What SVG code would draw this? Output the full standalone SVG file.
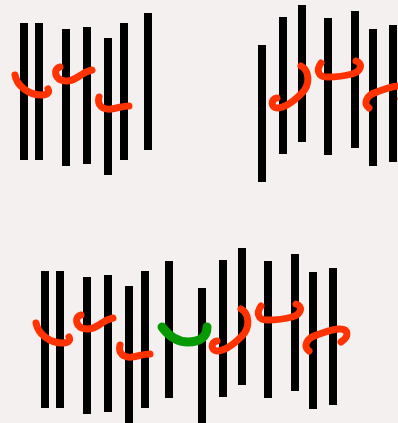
<svg xmlns="http://www.w3.org/2000/svg" xmlns:xlink="http://www.w3.org/1999/xlink" width="398" height="423" viewBox="0 0 398 423">
<style>
.bar{fill:#000}
.red{fill:none;stroke:#ff3200;stroke-width:7;stroke-linecap:round;stroke-linejoin:round}
.green{fill:none;stroke:#079a00;stroke-width:9;stroke-linecap:round;stroke-linejoin:round}
</style>
<defs>
<g id="barsA">
<rect class="bar" x="20" y="23" width="8" height="137"/>
<rect class="bar" x="35" y="23" width="8" height="137"/>
<rect class="bar" x="62" y="29" width="8" height="137"/>
<rect class="bar" x="83" y="27" width="8" height="137"/>
<rect class="bar" x="104" y="38" width="8" height="137"/>
<rect class="bar" x="120" y="23" width="8" height="137"/>
<rect class="bar" x="144" y="13" width="8" height="137"/>
</g>
<g id="strokesA">
<path class="red" d="M15,75 C17,86 29,95 41,95 C47,95 50,93 48,89"/>
<path class="red" d="M60,67 C54,68 54,77 61,80 C69,83 75,79 81,75 C85,72 88,71 92,70"/>
<path class="red" d="M99,97 C97,105 102,110 111,109 C118,108 123,106 129,106"/>
</g>
<g id="barsB">
<rect class="bar" x="258" y="45" width="8" height="137"/>
<rect class="bar" x="279" y="17" width="8" height="137"/>
<rect class="bar" x="298" y="5" width="8" height="137"/>
<rect class="bar" x="324" y="18" width="8" height="137"/>
<rect class="bar" x="351" y="11" width="8" height="137"/>
<rect class="bar" x="369" y="29" width="8" height="137"/>
<rect class="bar" x="389" y="25" width="8" height="137"/>
</g>
<g id="strokesB">
<path class="red" d="M301,66 C310,71 310,85 302,93 C294,101 285,108 277,108 C271,108 270,99 277,98"/>
<path class="red" d="M321,63 C316,70 318,77 327,77 C336,77 345,76 352,74 C362,71 363,63 356,61"/>
<path class="red" d="M369,108 C363,104 366,95 377,92 C385,89 392,86 400,86 C408,86 410,93 401,99"/>
</g>
</defs>
<rect width="398" height="423" fill="#f3f0ef"/>
<g id="group-top-left">
<use xlink:href="#barsA"/>
<use xlink:href="#strokesA"/>
</g>
<g id="group-top-right">
<use xlink:href="#barsB"/>
<use xlink:href="#strokesB"/>
</g>
<g id="group-bottom">
<use xlink:href="#barsA" transform="translate(21,248)"/>
<use xlink:href="#barsB" transform="translate(-60,243)"/>
<use xlink:href="#strokesA" transform="translate(21,248)"/>
<use xlink:href="#strokesB" transform="translate(-60,243)"/>
<path class="green" d="M162,327 C168,335 176,342 188,342 C200,342 207,337 207,327"/>
</g>
</svg>
